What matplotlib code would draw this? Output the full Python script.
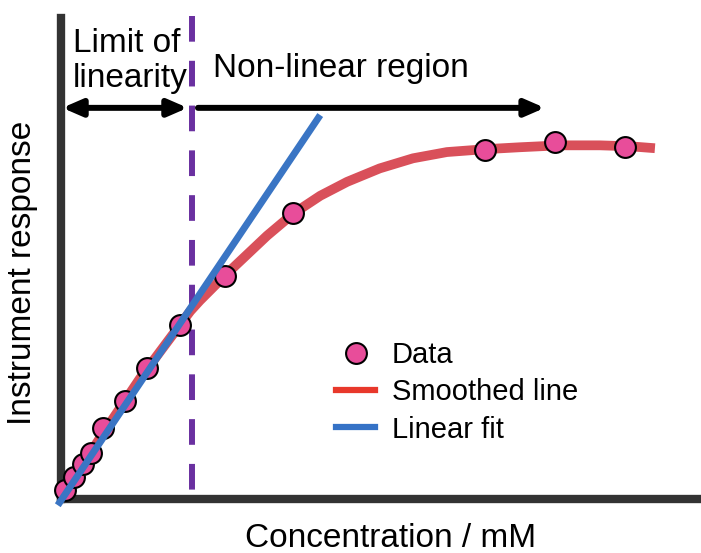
import matplotlib
matplotlib.use('Agg')
import matplotlib.pyplot as plt
from matplotlib.lines import Line2D

plt.rcParams['font.family'] = ['Liberation Sans', 'DejaVu Sans']

# Data points (arbitrary concentration units vs response)
data_x = [0.06, 0.20, 0.34, 0.47, 0.66, 1.00, 1.34, 1.86, 2.56, 3.62, 6.62, 7.72, 8.81]
data_y = [0.18, 0.45, 0.72, 0.95, 1.47, 2.03, 2.72, 3.61, 4.63, 5.94, 7.25, 7.42, 7.31]

# Smoothed line
smooth_x = [0.0, 0.61, 1.23, 1.88, 2.02, 2.17, 2.56, 2.91, 3.22, 3.63, 4.05, 4.47,
            4.98, 5.50, 6.03, 6.63, 7.17, 7.80, 8.42, 8.89, 9.28]
smooth_y = [0.0, 1.26, 2.49, 3.65, 3.90, 4.12, 4.64, 5.08, 5.47, 5.93, 6.30, 6.59,
            6.87, 7.08, 7.21, 7.27, 7.31, 7.35, 7.35, 7.33, 7.29]

# Linear fit end points
fit_x = [-0.02, 4.02]
fit_y = [-0.08, 7.92]

lol_x = 2.05          # limit of linearity
arrow_y = 8.13
lol_arrow = [0.02, 1.98]
nonlin_arrow = [2.14, 7.56]

W, H = 701, 553
fig = plt.figure(figsize=(W / 100, H / 100), dpi=100)
ax = fig.add_axes([61 / W, 1 - 498.5 / H, 1 - 61 / W, (498.5 - 18) / H])
ax.set_xlim(0, 10)
ax.set_ylim(0, 10)
ax.set_xticks([])
ax.set_yticks([])
for s in ['top', 'right']:
    ax.spines[s].set_visible(False)
for s in ['left', 'bottom']:
    ax.spines[s].set_linewidth(6)
    ax.spines[s].set_color('#333333')

ax.plot([lol_x, lol_x], [10.04, 0], color='#6a30a0', lw=4.3,
        dashes=(4.3, 3.2), clip_on=False, zorder=2)
ax.plot(smooth_x, smooth_y, color='#d9505a', lw=7, solid_capstyle='butt',
        solid_joinstyle='round', zorder=3)
ax.scatter(data_x, data_y, s=225, color='#e84d9a', edgecolor='black',
           linewidth=1.5, zorder=4, clip_on=False)
ax.plot(fit_x, fit_y, color='#3a75c4', lw=5, zorder=5, clip_on=False)

ap = dict(lw=4.3, color='black', shrinkA=0, shrinkB=0, mutation_scale=10)
ax.annotate('', xy=(lol_arrow[1], arrow_y), xytext=(lol_arrow[0], arrow_y),
            arrowprops=dict(arrowstyle='<|-|>,head_length=1.15,head_width=0.5', **ap))
ax.annotate('', xy=(nonlin_arrow[1], arrow_y), xytext=(nonlin_arrow[0], arrow_y),
            arrowprops=dict(arrowstyle='-|>,head_length=1.15,head_width=0.5', **ap))

def px(x, y):
    return x / W, 1 - y / H

fig.text(*px(73, 87), 'Limit of\nlinearity', fontsize=24, ha='left', va='baseline',
         linespacing=1.15)
fig.text(*px(213, 77), 'Non-linear region', fontsize=24, ha='left', va='baseline')
fig.text(*px(391, 547), 'Concentration / mM', fontsize=24, ha='center', va='baseline')
fig.text(*px(23, 273), 'Instrument response', fontsize=24, rotation=90,
         ha='center', va='center')

handles = [
    Line2D([], [], ls='none', marker='o', markersize=15, markerfacecolor='#e84d9a',
           markeredgecolor='black', markeredgewidth=1.5),
    Line2D([], [], color='#e8382b', lw=4.5),
    Line2D([], [], color='#3572c6', lw=4.5),
]
fig.legend(handles, ['Data', 'Smoothed line', 'Linear fit'], loc='upper left',
           bbox_to_anchor=px(336, 341), frameon=False, fontsize=21,
           borderpad=0, borderaxespad=0, handlelength=1.34, handletextpad=0.58,
           labelspacing=0.32)

plt.savefig('out.png', dpi=100)
